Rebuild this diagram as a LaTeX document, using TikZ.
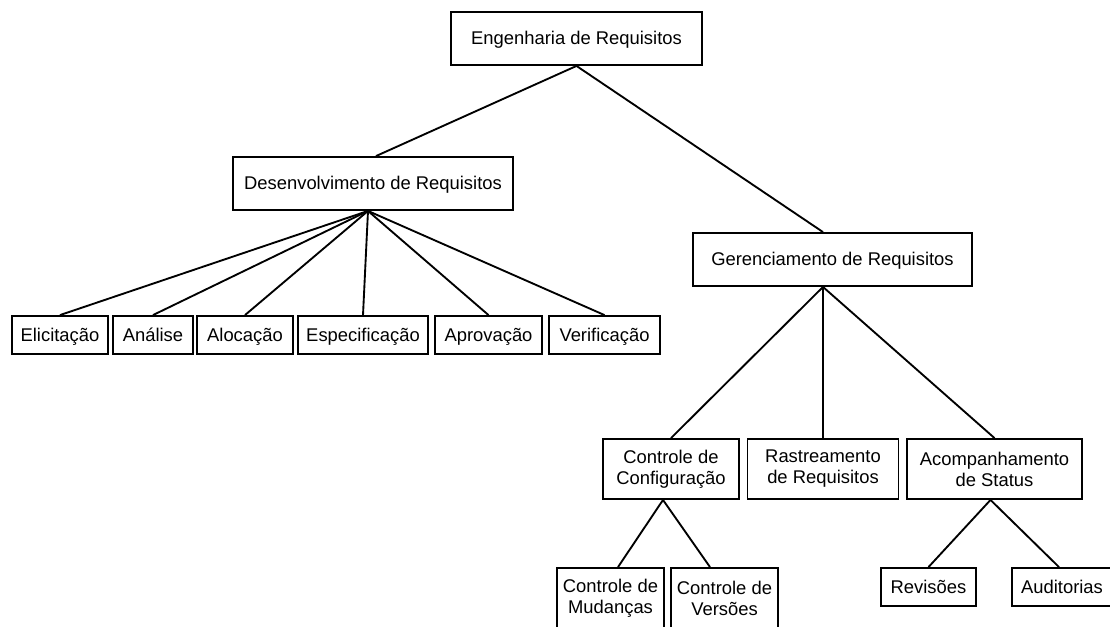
\documentclass[tikz,border=0pt]{standalone}
\usepackage{fontspec}
\setmainfont{Liberation Sans}
\usetikzlibrary{calc}

\tikzset{every picture/.style={line width=1.4pt}}
\tikzset{reqbox/.style={draw, rectangle, align=center, inner sep=0pt, font=\fontsize{13.8}{15.75}\selectfont},
	reqline/.style={reqbox, text height=10pt, text depth=0.5pt}}

\begin{document}
\begin{tikzpicture}[x=0.75pt,y=0.75pt,yscale=-1,xscale=1]
	\useasboundingbox (0,0) rectangle (1110,626);
	\clip (0,0) rectangle (1110,626);

	% Level 0 and 1
	\node[reqline, minimum width=188.25pt, minimum height=39.75pt] (eng) at (576.5,38.5) {Engenharia de Requisitos};
	\node[reqline, minimum width=210pt, minimum height=39.75pt] (des) at (373,183.5) {Desenvolvimento de Requisitos};
	\node[reqline, minimum width=209.25pt, minimum height=39.75pt] (ger) at (832.5,259.5) {Gerenciamento de Requisitos};

	% Desenvolvimento: children
	\node[reqline, minimum width=72pt, minimum height=28.5pt] (eli) at (60,335) {Elicitação};
	\node[reqline, minimum width=60pt, minimum height=28.5pt] (ana) at (153,335) {Análise};
	\node[reqline, minimum width=72pt, minimum height=28.5pt] (alo) at (245,335) {Alocação};
	\node[reqline, minimum width=97.5pt, minimum height=28.5pt] (esp) at (363,335) {Especificação};
	\node[reqline, minimum width=80.25pt, minimum height=28.5pt] (apr) at (488.5,335) {Aprovação};
	\node[reqline, minimum width=83.25pt, minimum height=28.5pt] (ver) at (604.5,335) {Verificação};

	% Gerenciamento: children
	\node[reqbox, minimum width=102pt, minimum height=45pt] (con) at (671,469) {Controle de\\Configuração};
	\node[reqbox, minimum width=113.25pt, minimum height=45pt] (ras) at (823,469) {Rastreamento\\de Requisitos};
	\node[reqbox, minimum width=131.25pt, minimum height=45pt] (aco) at (994.5,469) {Acompanhamento\\de Status};

	% Level 4
	\node[reqbox, minimum width=80.25pt, minimum height=45pt] (mud) at (610.5,598) {Controle de\\Mudanças};
	\node[reqbox, minimum width=80.25pt, minimum height=45pt] (vrs) at (724.5,598) {Controle de\\Versões};
	\node[reqline, minimum width=71.25pt, minimum height=28.5pt] (rev) at (928.5,587) {Revisões};
	\node[reqline, minimum width=75pt, minimum height=28.5pt] (aud) at (1062,587) {Auditorias};

	%Straight Lines
	\draw (eng.south) -- ($(des.north)+(3,0)$) ;
	\draw (eng.south) -- ($(ger.north)+(-9.5,0)$) ;
	\foreach \kid in {eli,ana,alo,esp,apr,ver}
		\draw ($(des.south)+(-5,0)$) -- (\kid.north) ;
	\foreach \kid in {con,ras,aco}
		\draw ($(ger.south)+(-9.5,0)$) -- (\kid.north) ;
	\draw ($(con.south)+(-8,0)$) -- ($(mud.north)+(7.5,0)$) ;
	\draw ($(con.south)+(-8,0)$) -- ($(vrs.north)+(-14.5,0)$) ;
	\draw ($(aco.south)+(-4,0)$) -- (rev.north) ;
	\draw ($(aco.south)+(-4,0)$) -- ($(aud.north)+(-3,0)$) ;

\end{tikzpicture}
\end{document}
